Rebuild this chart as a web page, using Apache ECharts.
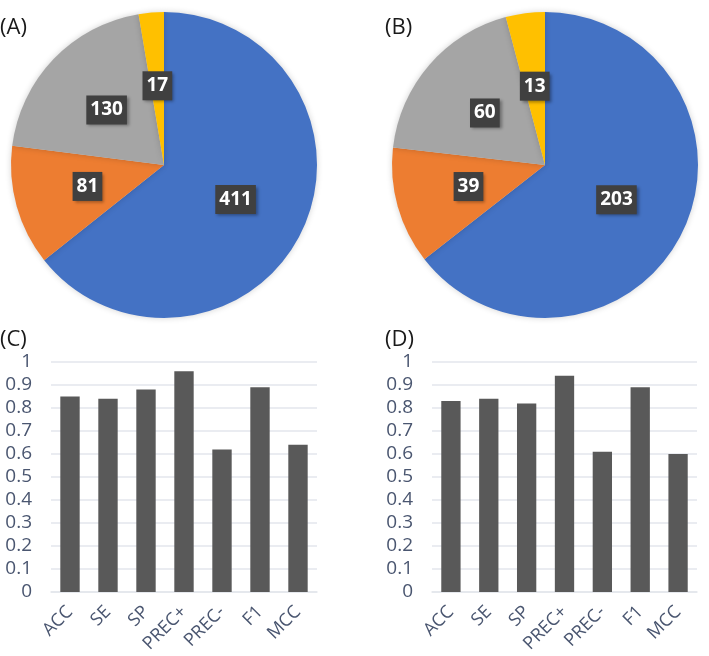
<!DOCTYPE html>
<html>
<head>
<meta charset="utf-8">
<script src="https://cdn.jsdelivr.net/npm/echarts@6/dist/echarts.min.js"></script>
<style>
html,body{margin:0;padding:0;background:#fff;}
#chart{width:709px;height:656px;}
</style>
</head>
<body>
<div id="chart"></div>
<script>
// ---- data ----
const pieColors = ['#4472C4', '#ED7D31', '#A5A5A5', '#FFC000'];
const pieAValues = [411, 81, 130, 17];
const pieBValues = [203, 39, 60, 13];
const metricCategories = ['ACC', 'SE', 'SP', 'PREC+', 'PREC-', 'F1', 'MCC'];
const barCValues = [0.85, 0.84, 0.88, 0.96, 0.62, 0.89, 0.64];
const barDValues = [0.83, 0.84, 0.82, 0.94, 0.61, 0.89, 0.60];
const panelLabels = ['(A)', '(B)', '(C)', '(D)'];

const FONT = '"Open Sans", "Noto Sans", sans-serif';
const axisColor = '#4A5670';
const gridColor = '#E3E6EC';

const chart = echarts.init(document.getElementById('chart'), null, {renderer: 'canvas'});

function pieSeries(values, cx) {
  return {
    type: 'pie',
    center: [cx, 165],
    radius: 153,
    startAngle: 90,
    clockwise: true,
    silent: true,
    data: values.map((v, i) => ({value: v, itemStyle: {color: pieColors[i]}})),
    itemStyle: {shadowBlur: 6, shadowColor: 'rgba(0,0,0,0.18)'},
    label: {
      show: true,
      position: 'inside',
      formatter: '{c}',
      color: '#fff',
      fontWeight: 'bold',
      fontSize: 19,
      lineHeight: 20,
      fontFamily: FONT,
      backgroundColor: '#404040',
      padding: [5, 4, 4, 4],
      shadowBlur: 3,
      shadowOffsetX: 2,
      shadowOffsetY: 2,
      shadowColor: 'rgba(0,0,0,0.35)'
    },
    labelLine: {show: false},
    emphasis: {disabled: true}
  };
}

function barGrid(left, right) {
  return {left: left, right: right, top: 362, bottom: 64, containLabel: false};
}

const labelPos = [[0, 17], [385, 17], [0, 329], [385, 329]];

const option = {
  animation: false,
  backgroundColor: '#fff',
  title: panelLabels.map((t, i) => ({
    text: t,
    left: labelPos[i][0],
    top: labelPos[i][1],
    padding: 0,
    textStyle: {fontSize: 22, fontWeight: 'normal', color: '#1a1a1a', fontFamily: FONT}
  })),
  grid: [barGrid(51, 392), barGrid(432, 12)],
  xAxis: [0, 1].map(i => ({
    type: 'category',
    gridIndex: i,
    data: metricCategories,
    axisLine: {show: true, lineStyle: {color: gridColor, width: 1.5}},
    axisTick: {show: false},
    axisLabel: {rotate: 45, color: axisColor, fontSize: 18, fontFamily: FONT, margin: 17, interval: 0}
  })),
  yAxis: [0, 1].map(i => ({
    type: 'value',
    gridIndex: i,
    min: 0,
    max: 1,
    interval: 0.1,
    axisLine: {show: false},
    axisTick: {show: false},
    splitLine: {lineStyle: {color: gridColor, width: 1.5}},
    axisLabel: {color: axisColor, fontSize: 19, fontFamily: FONT, margin: 19}
  })),
  series: [
    pieSeries(pieAValues, 164),
    pieSeries(pieBValues, 545),
    {
      type: 'bar', xAxisIndex: 0, yAxisIndex: 0, data: barCValues,
      barWidth: '51%', itemStyle: {color: '#595959'}, silent: true
    },
    {
      type: 'bar', xAxisIndex: 1, yAxisIndex: 1, data: barDValues,
      barWidth: '51%', itemStyle: {color: '#595959'}, silent: true
    }
  ]
};
chart.setOption(option);
</script>
</body>
</html>
